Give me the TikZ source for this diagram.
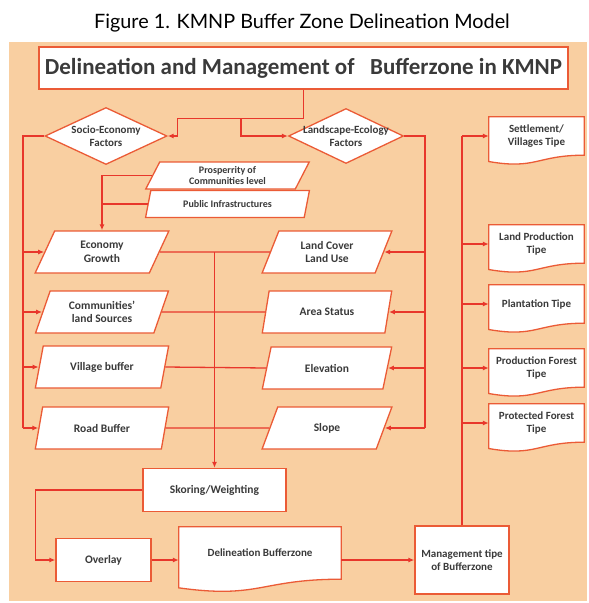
\documentclass[tikz,border=0pt]{standalone}
\usepackage{fontspec}
\setmainfont{Carlito}
\newfontfamily\capfont{Lato}
\usetikzlibrary{calc,shapes.geometric,arrows.meta,backgrounds}

\definecolor{bgpeach}{HTML}{F9CFA1}
\definecolor{linered}{HTML}{E8372B}
\definecolor{boxred}{HTML}{EB5B36}
\definecolor{txtgray}{HTML}{3A3A3A}

\tikzset{
  box/.style={rectangle, draw=boxred, fill=white, line width=1.3pt, align=center,
    text=txtgray, font=\fontsize{11}{13}\selectfont\bfseries, inner sep=2pt},
  para/.style={box, trapezium, trapezium left angle=67, trapezium right angle=113,
    trapezium stretches=true, minimum width=134, minimum height=42, inner sep=0pt,
    font=\fontsize{11.5}{13.5}\selectfont\bfseries},
  dia/.style={box, diamond, aspect=2.1, font=\fontsize{11}{13}\selectfont\bfseries},
  doc/.style={rectangle, align=center, text=txtgray, font=\fontsize{11}{13}\selectfont\bfseries,
    minimum width=95, minimum height=38, inner sep=1pt},
  wire/.style={draw=linered, line width=1.3pt},
  arr/.style={wire, -{Latex[length=6pt,width=5pt]}},
}

% 文档形状的外框
\newcommand{\docframe}[1]{%
  \draw[draw=boxred, fill=white, line width=1.3pt] (#1.north west) -- (#1.north east) -- (#1.south east)
    .. controls (#1.south) and ($(#1.north)!1.38!(#1.south)$) .. ($(#1.north west)!1.165!(#1.south west)$) -- cycle;}

\begin{document}
\begin{tikzpicture}[x=1pt,y=-1pt]
        \useasboundingbox (0,0) rectangle (589,603);
        % 背景
        \begin{scope}[on background layer]
            \fill [bgpeach] (9,42) rectangle (587,601);
        \end{scope}
        % 标题
        \node [font=\capfont\fontsize{19.8}{22}\selectfont] (caption) at (302,23) {Figure 1. KMNP Buffer Zone Delineation Model};
        \node [box, minimum width=529, minimum height=42, font=\fontsize{23}{25}\selectfont\bfseries] (title) at (303.5,68)
            {Delineation and Management of\ \ \ Bufferzone in KMNP};
        % 两个因素
        \node [dia, minimum width=122, minimum height=57, inner sep=-4pt] (socio) at (106,136) {Socio-Economy\\Factors};
        \node [dia, minimum width=115, minimum height=55, inner xsep=-16pt, inner ysep=-4pt] (land) at (346,136) {Landscape-Ecology\\Factors};
        \coordinate (split) at (241,118);
        \draw [arr] (title.south) -- ++(0,29) -| ([xshift=10pt]socio.east) -- (socio.east);
        \draw [arr] (split) |- (land.west);
        % 社会经济输入
        \node [para, minimum width=165, minimum height=27, font=\fontsize{10}{11.5}\selectfont\bfseries] (prosp) at (227.5,175.5) {Prosperrity of\\Communities level};
        \node [para, minimum width=165, minimum height=27, font=\fontsize{10}{11.5}\selectfont\bfseries] (pub) at (227.5,204) {Public Infrastructures};
        % 左列
        \node [para] (econ) at (102,252) {Economy\\Growth};
        \node [para] (comm) at (102,312) {Communities'\\land Sources};
        \node [para] (vill) at (102,367) {Village buffer};
        \node [para] (road) at (102,428) {Road Buffer};
        % 右列
        \node [para, minimum width=130] (cover) at (327,252) {Land Cover\\Land Use};
        \node [para, minimum width=130] (status) at (327,312) {Area Status};
        \node [para, minimum width=130] (elev) at (327,368) {Elevation};
        \node [para, minimum width=130] (slope) at (327,428) {Slope};
        \draw [arr] (prosp.west) -| (econ.north);
        \draw [wire] (pub.west) -- (pub.west -| econ.north);
        \coordinate (lbus) at (23,428);
        \coordinate (rbus) at (425,428);
        \draw [wire] (socio.west) -| (lbus);
        \draw [wire] (land.east) -| (rbus);
        \foreach \n in {econ,comm,vill,road}
            \draw [arr] (lbus |- \n.west) -- (\n.west);
        \foreach \n in {cover,status,elev,slope}
            \draw [arr] (rbus |- \n.east) -- (\n.east);
        % 中间的连线
        \draw [wire] (econ.east) -- (cover.west);
        \draw [wire] (comm.east) -- (status.west);
        \draw [wire] (vill.east) -- (elev.west);
        \draw [wire] (road.east) -- (slope.west);
        \node [box, minimum width=143, minimum height=43, font=\fontsize{11.5}{13.5}\selectfont\bfseries] (skor) at (214.5,490) {Skoring/Weighting};
        \draw [arr] (skor.north |- econ.east) -- (skor.north);
        % 底部流程
        \node [box, minimum width=95, minimum height=43, font=\fontsize{11.5}{13.5}\selectfont\bfseries] (overlay) at (103.5,560) {Overlay};
        \node [doc, minimum width=162, minimum height=52] (delin) at (260,553) {Delineation Bufferzone};
        \node [box, minimum width=94, minimum height=68] (mgmt) at (462,560) {Management tipe\\of Bufferzone};
        \draw [arr] (skor.west) -| ([xshift=-20pt]overlay.west) -- (overlay.west);
        \draw [arr] (overlay.east) -- (overlay.east -| delin.west);
        \draw [arr] (mgmt.west -| delin.east) -- (mgmt.west);
        % 管理类型
        \node [doc] (settle) at (536.5,136) {Settlement/\\Villages Tipe};
        \node [doc] (landprod) at (536.5,244) {Land Production\\Tipe};
        \node [doc] (plant) at (536.5,304) {Plantation Tipe};
        \node [doc] (prodfor) at (536.5,368) {Production Forest\\Tipe};
        \node [doc] (protfor) at (536.5,423) {Protected Forest\\Tipe};
        \draw [wire] (mgmt.north) -- (mgmt.north |- settle.west);
        \foreach \n in {settle,landprod,plant,prodfor,protfor}
            \draw [arr] (mgmt.north |- \n.west) -- (\n.west);
        % 文档外框放在背景层
        \begin{scope}[on background layer]
            \foreach \n in {delin,settle,landprod,plant,prodfor,protfor}
                {\docframe{\n}}
        \end{scope}
\end{tikzpicture}
\end{document}
